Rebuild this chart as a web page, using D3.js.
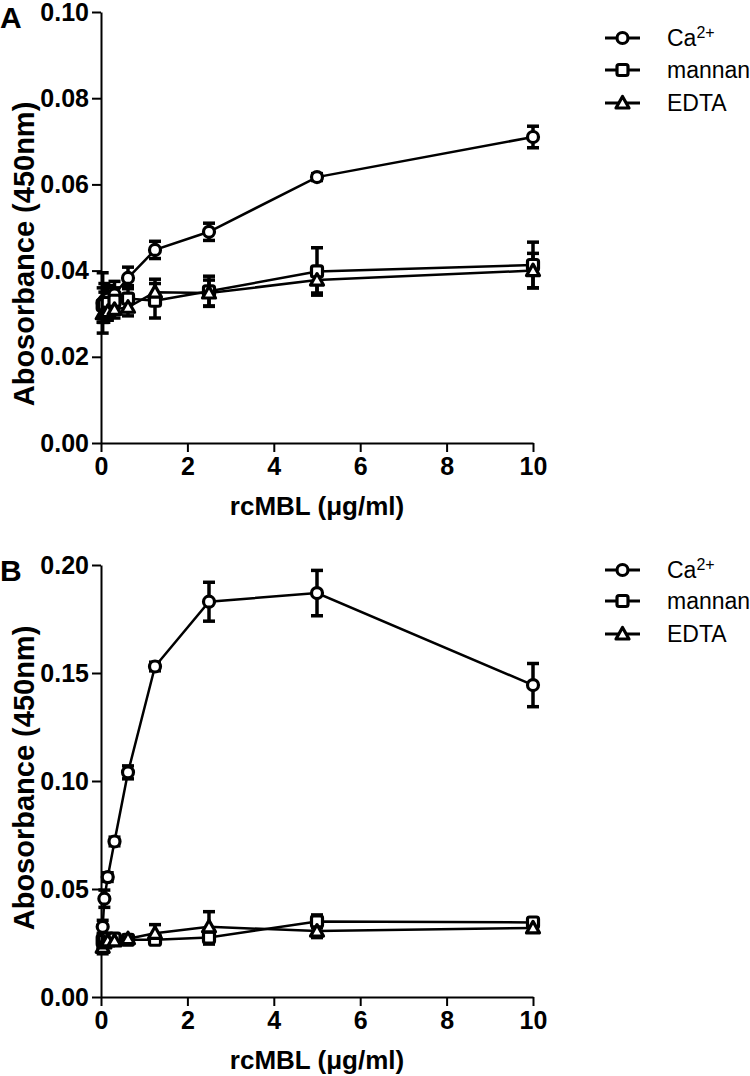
<!DOCTYPE html>
<html><head><meta charset="utf-8">
<script src="https://cdn.jsdelivr.net/npm/d3@7"></script>
<style>body{margin:0;background:#fff}</style></head>
<body><svg id="c" width="750" height="1076"></svg>
<script>
// ---- data ----
const doses = [0.039, 0.078, 0.156, 0.3125, 0.625, 1.25, 2.5, 5, 10];
const seriesNames = ["Ca", "mannan", "EDTA"];
const xTicks = [0, 2, 4, 6, 8, 10];
const yTicksA = [0, 0.02, 0.04, 0.06, 0.08, 0.10];
const yTicksB = [0, 0.05, 0.10, 0.15, 0.20];

const caA      = [0.0325, 0.0330, 0.0335, 0.0345, 0.0383, 0.0448, 0.0490, 0.0617, 0.0710];
const caAErr   = [0.0070, 0.0040, 0.0030, 0.0030, 0.0025, 0.0020, 0.0020, 0.0008, 0.0025];
const manA     = [0.0320, 0.0320, 0.0325, 0.0330, 0.0335, 0.0330, 0.0352, 0.0398, 0.0413];
const manAErr  = [0.0040, 0.0030, 0.0040, 0.0030, 0.0030, 0.0040, 0.0035, 0.0055, 0.0053];
const edtaA    = [0.0300, 0.0300, 0.0305, 0.0310, 0.0315, 0.0350, 0.0348, 0.0378, 0.0400];
const edtaAErr = [0.0020, 0.0020, 0.0020, 0.0020, 0.0020, 0.0030, 0.0030, 0.0030, 0.0040];

const caB      = [0.0325, 0.0455, 0.0555, 0.0720, 0.1040, 0.1530, 0.1830, 0.1870, 0.1444];
const caBErr   = [0.0030, 0.0040, 0.0020, 0.0020, 0.0030, 0.0020, 0.0090, 0.0105, 0.0100];
const manB     = [0.0260, 0.0260, 0.0270, 0.0270, 0.0265, 0.0265, 0.0275, 0.0350, 0.0345];
const manBErr  = [0.0030, 0.0020, 0.0015, 0.0015, 0.0015, 0.0020, 0.0030, 0.0030, 0.0020];
const edtaB    = [0.0230, 0.0250, 0.0260, 0.0260, 0.0270, 0.0295, 0.0325, 0.0305, 0.0320];
const edtaBErr = [0.0030, 0.0020, 0.0015, 0.0015, 0.0015, 0.0040, 0.0070, 0.0030, 0.0020];

// ---- drawing ----
const svg = d3.select("#c");
const FONT = "'Liberation Sans', Arial, Helvetica, sans-serif";
const shapes = ["circle", "square", "triangle"];

function marker(g, shape, cx, cy) {
  if (shape === "circle") {
    g.append("circle").attr("cx", cx).attr("cy", cy).attr("r", 5.5)
      .attr("fill", "#fff").attr("stroke", "#000").attr("stroke-width", 3.2);
  } else if (shape === "square") {
    g.append("rect").attr("x", cx - 5.5).attr("y", cy - 5.5).attr("width", 11).attr("height", 11)
      .attr("rx", 2).attr("fill", "#fff").attr("stroke", "#000").attr("stroke-width", 3.2);
  } else {
    g.append("path").attr("d", `M${cx},${cy - 6.5}L${cx + 6.5},${cy + 5}L${cx - 6.5},${cy + 5}Z`)
      .attr("fill", "#fff").attr("stroke", "#000").attr("stroke-width", 3.2).attr("stroke-linejoin", "round");
  }
}

function panel(cfg) {
  const g = svg.append("g");
  const x = d3.scaleLinear().domain([0, 10]).range([101, 533]);
  const y = d3.scaleLinear().domain([0, cfg.ymax]).range([cfg.bottom, cfg.top]);

  const xa = g.append("g").attr("transform", `translate(0,${cfg.bottom})`)
    .call(d3.axisBottom(x).tickValues(xTicks).tickSize(9).tickSizeOuter(0).tickPadding(5).tickFormat(d3.format("d")));
  const ya = g.append("g").attr("transform", `translate(101,0)`)
    .call(d3.axisLeft(y).tickValues(cfg.yTicks).tickSize(9).tickSizeOuter(0).tickPadding(3).tickFormat(d3.format(".2f")));
  [xa, ya].forEach(a => {
    a.select(".domain").attr("stroke", "#000").attr("stroke-width", 2);
    a.selectAll(".tick line").attr("stroke", "#000").attr("stroke-width", 2);
    a.selectAll("text").attr("fill", "#000").attr("font-family", FONT)
      .attr("font-size", 25).attr("font-weight", "bold");
  });

  g.append("text").attr("x", 317).attr("y", cfg.bottom + 72).attr("text-anchor", "middle")
    .attr("font-family", FONT).attr("font-size", 26).attr("font-weight", "bold")
    .text("rcMBL (\u03bcg/ml)");
  g.append("text").attr("transform", `translate(34,${cfg.ylabY}) rotate(-90)`).attr("text-anchor", "middle")
    .attr("font-family", FONT).attr("font-size", 29).attr("font-weight", "bold")
    .text("Abosorbance (450nm)");
  g.append("text").attr("x", 0).attr("y", cfg.top + 16).attr("font-family", FONT)
    .attr("font-size", 30).attr("font-weight", "bold").text(cfg.label);

  const line = d3.line().x((d, i) => x(doses[i])).y(d => y(d));
  cfg.series.forEach(s => {
    g.append("path").attr("d", line(s.v)).attr("fill", "none").attr("stroke", "#000").attr("stroke-width", 2.5);
  });
  cfg.series.forEach(s => {
    s.v.forEach((v, i) => {
      const cx = x(doses[i]), y1 = y(v + s.e[i]), y0 = y(v - s.e[i]);
      g.append("line").attr("x1", cx).attr("x2", cx).attr("y1", y1).attr("y2", y0)
        .attr("stroke", "#000").attr("stroke-width", 3.5);
      [y1, y0].forEach(yy => g.append("line").attr("x1", cx - 6).attr("x2", cx + 6)
        .attr("y1", yy).attr("y2", yy).attr("stroke", "#000").attr("stroke-width", 3.5));
    });
  });
  cfg.series.forEach((s, k) => {
    s.v.forEach((v, i) => marker(g, shapes[k], x(doses[i]), y(v)));
  });

  // legend
  cfg.legendY.forEach((ly, k) => {
    g.append("line").attr("x1", 605).attr("x2", 640).attr("y1", ly).attr("y2", ly)
      .attr("stroke", "#000").attr("stroke-width", 3);
    marker(g, shapes[k], 622.5, ly);
    const t = g.append("text").attr("x", 667).attr("y", ly + 8).attr("font-family", FONT)
      .attr("font-size", 23);
    t.append("tspan").text(seriesNames[k]);
    if (k === 0) t.append("tspan").attr("baseline-shift", "super").attr("font-size", 16).text("2+");
  });
}

panel({ label: "A", top: 12, bottom: 443, ymax: 0.10, yTicks: yTicksA, ylabY: 254,
  legendY: [38, 70, 103],
  series: [{ v: caA, e: caAErr }, { v: manA, e: manAErr }, { v: edtaA, e: edtaAErr }] });
panel({ label: "B", top: 565, bottom: 997, ymax: 0.20, yTicks: yTicksB, ylabY: 778,
  legendY: [570, 601, 634],
  series: [{ v: caB, e: caBErr }, { v: manB, e: manBErr }, { v: edtaB, e: edtaBErr }] });
</script></body></html>
